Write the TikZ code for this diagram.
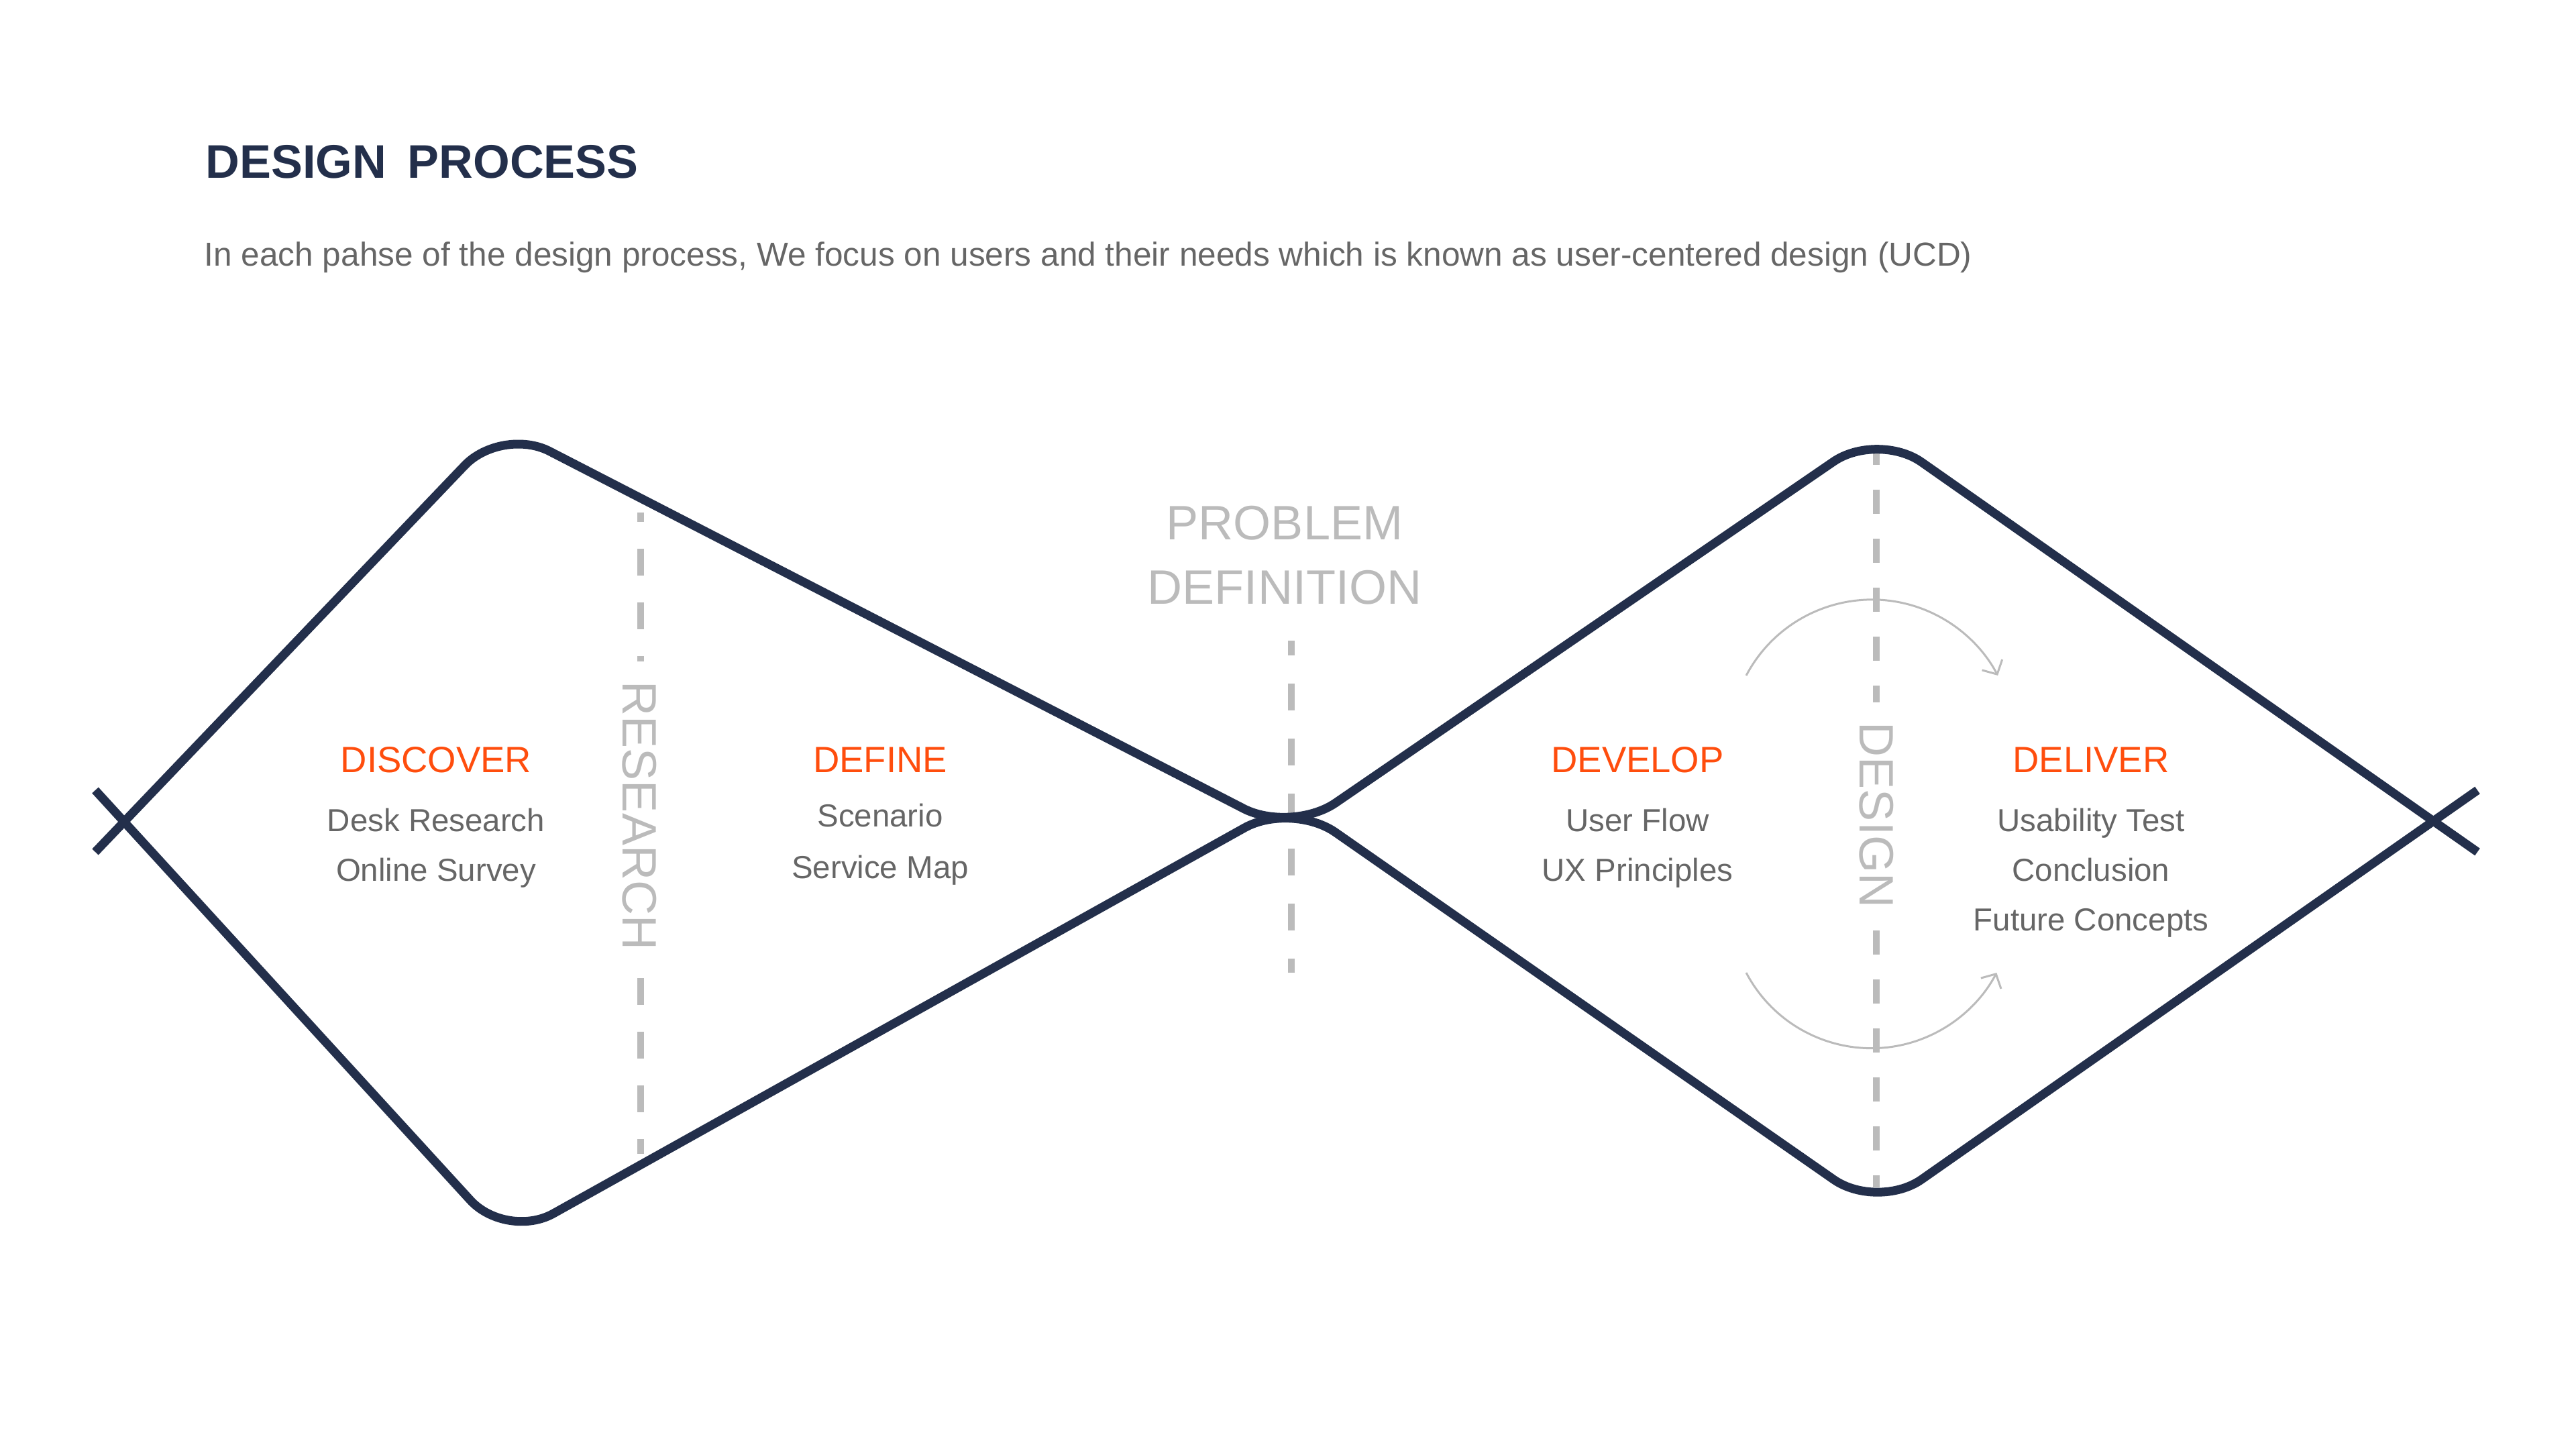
\documentclass[tikz,border=0pt]{standalone}
\usepackage{fontspec}
\setmainfont{Liberation Sans}
\usepackage{tikz}
\usetikzlibrary{positioning}
\usetikzlibrary{arrows.meta}
\definecolor{navy}{HTML}{232F4B}
\definecolor{accent}{HTML}{FF4D0D}
\definecolor{itemgray}{HTML}{666666}
\definecolor{softgray}{HTML}{BBBBBB}
\tikzstyle{headtext} = [text=accent, font=\fontsize{15.5}{18}\selectfont, inner sep=0pt, anchor=base]
\tikzstyle{itemtext} = [text=itemgray, font=\fontsize{13.5}{16}\selectfont, inner sep=0pt]
\tikzstyle{greylabel} = [text=softgray, font=\fontsize{20.5}{27.3}\selectfont, align=center]
\tikzstyle{vertlabel} = [greylabel, rotate=-90, fill=white, inner xsep=0.3cm, inner ysep=0.05cm]
\tikzstyle{diamondline} = [draw=navy, line width=0.13cm, rounded corners=0.8cm]
\tikzstyle{dashline} = [draw=softgray, line width=0.1cm]
\tikzstyle{looparrow} = [draw=softgray, line width=0.03cm, -{Straight Barb[length=0.16cm, width=0.34cm]}]

\begin{document}
\begin{tikzpicture}
			\useasboundingbox (0,0) rectangle (38.4,-21.6);
			% title
			\node[anchor=base west, inner sep=0pt, text=navy, font=\fontsize{20}{24}\selectfont\bfseries](title) at (3.06,-2.66){DESIGN\hspace{0.45em}PROCESS};
			\node[anchor=base west, inner sep=0pt, text=itemgray, font=\fontsize{14.1}{17}\selectfont](subtitle) at (3.04,-3.97){In each pahse of the design process, We focus on users and their needs which is known as user-centered design (UCD)};
			% points of the double diamond
			\coordinate (lstubtop) at (1.42,-11.78);
			\coordinate (lstubbot) at (1.42,-12.70);
			\coordinate (ltop) at (7.48,-6.36);
			\coordinate (lbot) at (7.55,-18.48);
			\coordinate (midup) at (19.25,-12.42);
			\coordinate (midlow) at (19.25,-11.95);
			\coordinate (rtop) at (27.99,-6.43);
			\coordinate (rbot) at (27.99,-18.04);
			\coordinate (rstubtop) at (36.93,-11.78);
			\coordinate (rstubbot) at (36.93,-12.70);
			% dashed dividers
			\coordinate (resA) at (9.55,-7.64);
			\coordinate (resB) at (9.55,-17.20);
			\coordinate (probA) at (19.25,-9.55);
			\coordinate (probB) at (19.25,-14.50);
			\coordinate (desA) at (27.97,-6.76);
			\coordinate (desB) at (27.97,-17.70);
			\draw[dashline, dash pattern=on 0.4cm off 0.4cm, dash phase=0.26cm] (resA) -- (resB);
			\draw[dashline, dash pattern=on 0.4cm off 0.42cm, dash phase=0.18cm] (probA) -- (probB);
			\draw[dashline, dash pattern=on 0.36cm off 0.37cm, dash phase=0.19cm] (desA) -- (desB);
			% loop arrows round DESIGN
			\coordinate (looptop) at (26.03,-10.07);
			\coordinate (loopbot) at (26.03,-14.50);
			\draw[looparrow] (looptop) arc[start angle=152.2, end angle=27.8, radius=2.12];
			\draw[looparrow] (loopbot) arc[start angle=207.8, end angle=332.2, radius=2.11];
			% the two strokes
			\draw[diamondline] (lstubbot) -- (ltop) -- (midup) -- (rtop) -- (rstubbot);
			\draw[diamondline] (lstubtop) -- (lbot) -- (midlow) -- (rbot) -- (rstubtop);
			% labels
			\node[vertlabel](research) at (9.53,-12.16){RESEARCH};
			\node[vertlabel](design) at (27.97,-12.15){DESIGN};
			\node[greylabel, anchor=base](problem) at (19.15,-9.00){PROBLEM\\DEFINITION};
			\node[headtext](discover) at (6.50,-11.51){DISCOVER};
			\node[itemtext, below=0.88cm of discover.base, anchor=base](desk){Desk Research};
			\node[itemtext, below=0.74cm of desk.base, anchor=base](online){Online Survey};
			\node[headtext](define) at (13.12,-11.51){DEFINE};
			\node[itemtext, below=0.81cm of define.base, anchor=base](scenario){Scenario};
			\node[itemtext, below=0.77cm of scenario.base, anchor=base](servicemap){Service Map};
			\node[headtext](develop) at (24.41,-11.51){DEVELOP};
			\node[itemtext, below=0.88cm of develop.base, anchor=base](userflow){User Flow};
			\node[itemtext, below=0.74cm of userflow.base, anchor=base](uxprinciples){UX Principles};
			\node[headtext](deliver) at (31.17,-11.51){DELIVER};
			\node[itemtext, below=0.88cm of deliver.base, anchor=base](usability){Usability Test};
			\node[itemtext, below=0.74cm of usability.base, anchor=base](conclusion){Conclusion};
			\node[itemtext, below=0.74cm of conclusion.base, anchor=base](future){Future Concepts};
		\end{tikzpicture}
\end{document}
